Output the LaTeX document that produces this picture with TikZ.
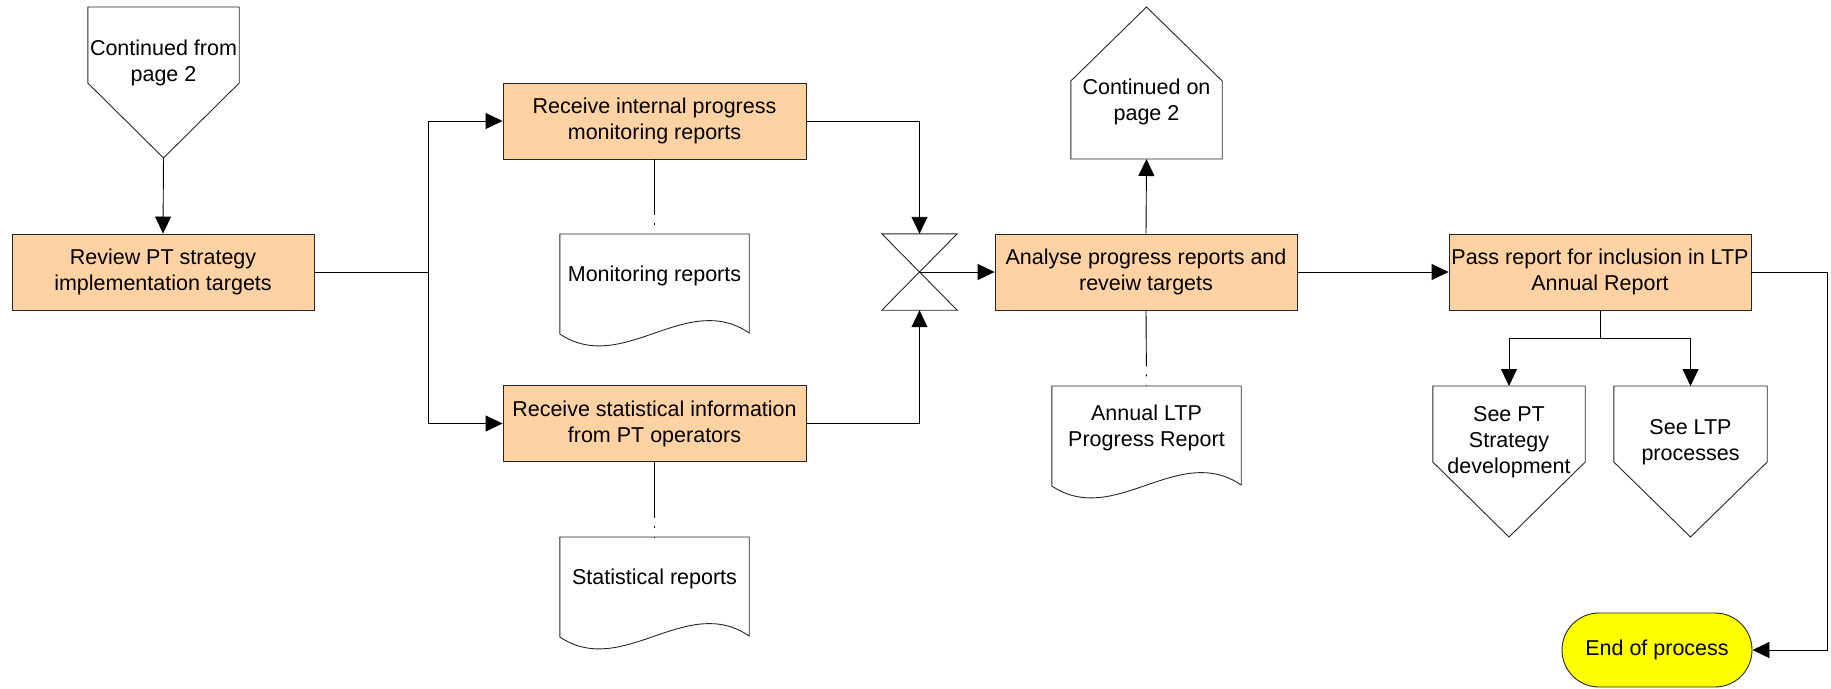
\documentclass[tikz,border=0pt]{standalone}
\usepackage{fontspec}
\setmainfont{Liberation Sans}
\usetikzlibrary{arrows.meta,calc,shapes.misc}
\definecolor{peach}{HTML}{FFD2A4}
\definecolor{hiyellow}{HTML}{FFFF00}
\newcommand\fsz{\fontsize{21.5}{26}\selectfont}
\tikzset{
  proc/.style={draw=black!85, fill=peach, line width=0.9pt, minimum width=302pt, minimum height=76pt, inner sep=0pt, align=center, font=\fsz},
  txt/.style={draw=none, inner sep=0pt, align=center, font=\fsz},
  outl/.style={draw=black!85, line width=0.9pt},
  conn/.style={line width=0.9pt, draw=black},
  arr/.style={conn, -{Triangle[length=17pt,width=16pt]}},
  dashconn/.style={conn, dash pattern=on 56pt off 8pt on 2pt off 9pt},
  endbox/.style={rounded rectangle, draw=black!85, fill=hiyellow, line width=0.9pt, minimum width=190pt, minimum height=74pt, inner sep=0pt, font=\fsz},
}
\newcommand\docoutline[1]{\draw[outl] (#1.north west) -- (#1.north east) -- ([yshift=-99pt]#1.north east)
  .. controls ([xshift=-63pt,yshift=-56pt]#1.north east) and ([xshift=63pt,yshift=-142pt]#1.north west) .. ([yshift=-100pt]#1.north west) -- cycle;}
\newcommand\offdown[1]{\draw[outl] (#1.north west) -- (#1.north east) -- ([yshift=-76pt]#1.north east) -- ([yshift=-151pt]#1.north) -- ([yshift=-76pt]#1.north west) -- cycle;}
\begin{document}
\begin{tikzpicture}[x=1pt,y=-1pt]
\useasboundingbox (0,0) rectangle (1831,688);
% process boxes
\node[proc] (rv) at (163,272) {Review PT strategy\\implementation targets};
\node[proc, minimum width=303pt] (ri) at (654.5,121) {Receive internal progress\\monitoring reports};
\node[proc, minimum width=303pt] (rs) at (654.5,423.5) {Receive statistical information\\from PT operators};
\node[proc] (an) at (1146,272) {Analyse progress reports and\\reveiw targets};
\node[proc] (pa) at (1600,272) {Pass report for inclusion in LTP\\Annual Report};
% off-page connectors
\node[txt, minimum width=151pt, minimum height=112pt, anchor=north] (cf) at (163.5,7) {Continued from\\page 2};
\offdown{cf}
\coordinate (cftip) at ([yshift=-151pt]cf.north);
\node[txt, minimum width=152pt, minimum height=112pt, anchor=north] (s1) at (1509,386) {See PT\\Strategy\\development};
\offdown{s1}
\node[txt, minimum width=153pt, minimum height=112pt, anchor=north] (s2) at (1690.5,386) {See LTP\\processes};
\offdown{s2}
\node[txt, minimum width=151pt, minimum height=114pt, anchor=south] (co) at (1146.5,159) {Continued on\\page 2};
\draw[outl] (co.south west) -- (co.south east) -- ([yshift=78pt]co.south east) -- ([yshift=152pt]co.south) -- ([yshift=78pt]co.south west) -- cycle;
% documents
\node[txt, minimum width=189pt, minimum height=84pt, anchor=north] (md) at (654.5,234) {Monitoring reports};
\docoutline{md}
\node[txt, minimum width=189pt, minimum height=84pt, anchor=north] (sd) at (654.5,537) {Statistical reports};
\docoutline{sd}
\node[txt, minimum width=189pt, minimum height=83pt, anchor=north] (ad) at (1146.5,386) {Annual LTP\\Progress Report};
\docoutline{ad}
% collate
\node[draw=none, minimum width=75pt, minimum height=76pt, inner sep=0pt] (hg) at (919.5,272) {};
\draw[outl] (hg.north west) -- (hg.north east) -- (hg.south west) -- (hg.south east) -- cycle;
% terminator
\node[endbox] (en) at (1657,650) {End of process};
% connectors
\coordinate (br) at (428,272);
\coordinate (sp) at (1600,338);
\coordinate (rc) at (1827,272);
\draw[arr] (cftip) -- (rv.north);
\draw[conn] (rv.east) -- (br);
\draw[arr] (br) |- (ri.west);
\draw[arr] (br) |- (rs.west);
\draw[arr] (ri.east) -| (hg.north);
\draw[arr] (rs.east) -| (hg.south);
\draw[arr] (hg.center) -- (an.west);
\draw[arr] (an.north) -- (co.south);
\draw[dashconn] (ri.south) -- (md.north);
\draw[dashconn] (rs.south) -- (sd.north);
\draw[dashconn] (an.south) -- (ad.north);
\draw[arr] (an.east) -- (pa.west);
\draw[conn] (pa.south) -- (sp);
\draw[arr] (sp) -| (s1.north);
\draw[arr] (sp) -| (s2.north);
\draw[arr] (pa.east) -- (rc) |- (en.east);
\end{tikzpicture}
\end{document}
